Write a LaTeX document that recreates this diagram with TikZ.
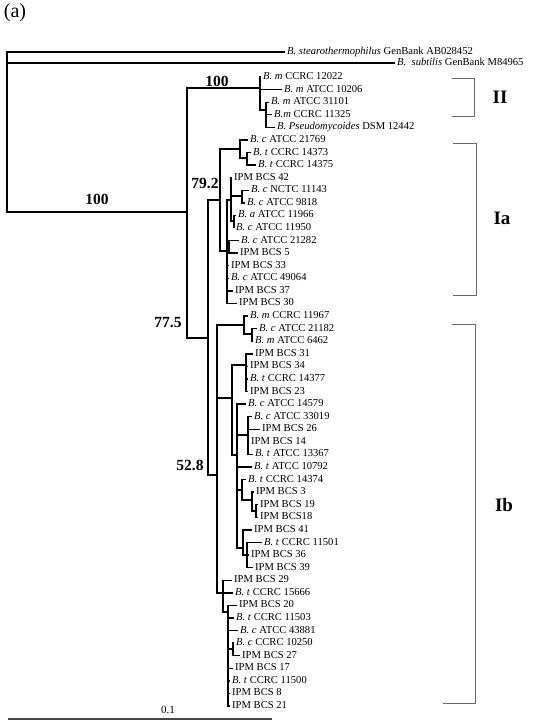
\documentclass[tikz,border=0pt]{standalone}
\usepackage{fontspec}
\setmainfont{Liberation Serif}
\usepackage{xcolor}
\definecolor{branchblack}{RGB}{0,0,0}
\definecolor{bracketgray}{RGB}{105,105,105}
\definecolor{scalegray}{RGB}{70,70,70}
\usepackage{tikz}
\tikzset{
  tiplbl/.style={anchor=west,inner xsep=2pt,inner ysep=0pt,
    font=\fontsize{10.6}{12}\selectfont,text height=7pt,text depth=2pt},
  bootlbl/.style={font=\fontsize{15.5}{17}\selectfont\bfseries,inner sep=0pt},
  cladelbl/.style={font=\fontsize{19}{22}\selectfont\bfseries,inner sep=0pt},
  br/.style={draw=branchblack,line width=1.4pt},
  bracket/.style={draw=bracketgray,line width=0.9pt},
}

\begin{document}
\begin{tikzpicture}[x=1pt,y=-1pt]
  \useasboundingbox (0,0) rectangle (536,728);
  \node[font=\fontsize{20}{22}\selectfont] (panel) at (15,13) {(a)};

  % outgroups
  \node[tiplbl] (so) at (285,52) {\textit{B. stearothermophilus} GenBank AB028452};
  \node[tiplbl] (su) at (395,63) {\textit{B.\ \ subtilis} GenBank M84965};

  % tips, clade II
  \node[tiplbl] (t1) at (261,77.0) {\textit{B. m} CCRC 12022};
  \node[tiplbl] (t2) at (282,89.6) {\textit{B. m} ATCC 10206};
  \node[tiplbl] (t3) at (269,102.2) {\textit{B. m} ATCC 31101};
  \node[tiplbl] (t4) at (272,114.7) {\textit{B.m} CCRC 11325};
  \node[tiplbl] (t5) at (275,127.3) {\textit{B. Pseudomycoides} DSM 12442};
  % tips, clade Ia
  \node[tiplbl] (t6) at (248,139.9) {\textit{B. c} ATCC 21769};
  \node[tiplbl] (t7) at (251,152.5) {\textit{B. t} CCRC 14373};
  \node[tiplbl] (t8) at (256,165.1) {\textit{B. t} CCRC 14375};
  \node[tiplbl] (t9) at (232,177.6) {IPM BCS 42};
  \node[tiplbl] (t10) at (249,190.2) {\textit{B. c} NCTC 11143};
  \node[tiplbl] (t11) at (245,202.8) {\textit{B. c} ATCC 9818};
  \node[tiplbl] (t12) at (236,215.4) {\textit{B. a} ATCC 11966};
  \node[tiplbl] (t13) at (234,228.0) {\textit{B. c} ATCC 11950};
  \node[tiplbl] (t14) at (239,240.5) {\textit{B. c} ATCC 21282};
  \node[tiplbl] (t15) at (238,253.1) {IPM BCS 5};
  \node[tiplbl] (t16) at (229,265.7) {IPM BCS 33};
  \node[tiplbl] (t17) at (229,278.3) {\textit{B. c} ATCC 49064};
  \node[tiplbl] (t18) at (233,290.9) {IPM BCS 37};
  \node[tiplbl] (t19) at (237,303.4) {IPM BCS 30};
  % tips, clade Ib
  \node[tiplbl] (t20) at (248,316.0) {\textit{B. m} CCRC 11967};
  \node[tiplbl] (t21) at (257,328.6) {\textit{B. c} ATCC 21182};
  \node[tiplbl] (t22) at (253,341.2) {\textit{B. m} ATCC 6462};
  \node[tiplbl] (t23) at (253,353.8) {IPM BCS 31};
  \node[tiplbl] (t24) at (248,366.3) {IPM BCS 34};
  \node[tiplbl] (t25) at (248,378.9) {\textit{B. t} CCRC 14377};
  \node[tiplbl] (t26) at (248,391.5) {IPM BCS 23};
  \node[tiplbl] (t27) at (246,404.1) {\textit{B. c} ATCC 14579};
  \node[tiplbl] (t28) at (252,416.7) {\textit{B. c} ATCC 33019};
  \node[tiplbl] (t29) at (260,429.2) {IPM BCS 26};
  \node[tiplbl] (t30) at (249,441.8) {IPM BCS 14};
  \node[tiplbl] (t31) at (253,454.4) {\textit{B. t} ATCC 13367};
  \node[tiplbl] (t32) at (252,467.0) {\textit{B. t} ATCC 10792};
  \node[tiplbl] (t33) at (246,479.6) {\textit{B. t} CCRC 14374};
  \node[tiplbl] (t34) at (254,492.1) {IPM BCS 3};
  \node[tiplbl] (t35) at (258,504.7) {IPM BCS 19};
  \node[tiplbl] (t36) at (258,517.3) {IPM BCS18};
  \node[tiplbl] (t37) at (252,529.9) {IPM BCS 41};
  \node[tiplbl] (t38) at (262,542.5) {\textit{B. t} CCRC 11501};
  \node[tiplbl] (t39) at (249,555.0) {IPM BCS 36};
  \node[tiplbl] (t40) at (253,567.6) {IPM BCS 39};
  \node[tiplbl] (t41) at (232,580.2) {IPM BCS 29};
  \node[tiplbl] (t42) at (233,592.8) {\textit{B. t} CCRC 15666};
  \node[tiplbl] (t43) at (237,605.4) {IPM BCS 20};
  \node[tiplbl] (t44) at (234,617.9) {\textit{B. t} CCRC 11503};
  \node[tiplbl] (t45) at (238,630.5) {\textit{B. c} ATCC 43881};
  \node[tiplbl] (t46) at (234,643.1) {\textit{B. c} CCRC 10250};
  \node[tiplbl] (t47) at (240,655.7) {IPM BCS 27};
  \node[tiplbl] (t48) at (233,668.3) {IPM BCS 17};
  \node[tiplbl] (t49) at (230,680.8) {\textit{B. t} CCRC 11500};
  \node[tiplbl] (t50) at (230,693.4) {IPM BCS 8};
  \node[tiplbl] (t51) at (230,706.0) {IPM BCS 21};

  % internal nodes
  \coordinate (root) at (7,130);
  \coordinate (A) at (187,212);
  \coordinate (II) at (260,88);
  \coordinate (II2) at (266,110);
  \coordinate (B) at (208,338);
  \coordinate (ia) at (220,200);
  \coordinate (a1) at (240,149);
  \coordinate (a1b) at (247,158);
  \coordinate (a2) at (227,251);
  \coordinate (a21) at (231,200);
  \coordinate (a22) at (242,196);
  \coordinate (a23) at (234,221);
  \coordinate (a24) at (229,247);
  \coordinate (D) at (217,475);
  \coordinate (b1) at (244,325);
  \coordinate (b11) at (252,334);
  \coordinate (b2) at (232,398);
  \coordinate (b2a) at (246,365);
  \coordinate (b3) at (237,455);
  \coordinate (b3a) at (248,435);
  \coordinate (b4a) at (242,490);
  \coordinate (b4b) at (252,500);
  \coordinate (b4c) at (256,511);
  \coordinate (b4d) at (243,548);
  \coordinate (b4e) at (247,555);
  \coordinate (b5) at (223,593);
  \coordinate (b5a) at (228,612);
  \coordinate (b5b) at (233,649);

  % branches
  \draw[br] (root) |- (so.west) (root) |- (su.west) (root) |- (A);
  \draw[br] (A) |- (II) (A) |- (B);
  \draw[br] (II) |- (t1.west) (II) |- (t2.west) (II) |- (II2);
  \draw[br] (II2) |- (t3.west) (II2) |- (t4.west) (II2) |- (t5.west);
  \draw[br] (B) |- (ia) (B) |- (D);
  \draw[br] (ia) |- (a1) (ia) |- (a2);
  \draw[br] (a1) |- (t6.west) (a1) |- (a1b);
  \draw[br] (a1b) |- (t7.west) (a1b) |- (t8.west);
  \draw[br] (a2) |- (a21) (a2) |- (a24) (a2) |- (t16.west) (a2) |- (t17.west)
    (a2) |- (t18.west) (a2) |- (t19.west);
  \draw[br] (a21) |- (t9.west) (a21) |- (a22) (a21) |- (a23);
  \draw[br] (a22) |- (t10.west) (a22) |- (t11.west);
  \draw[br] (a23) |- (t12.west) (a23) |- (t13.west);
  \draw[br] (a24) |- (t14.west) (a24) |- (t15.west);
  \draw[br] (D) |- (b1) (D) |- (b2) (D) |- (b5);
  \draw[br] (b1) |- (t20.west) (b1) |- (b11);
  \draw[br] (b11) |- (t21.west) (b11) |- (t22.west);
  \draw[br] (b2) |- (b2a) (b2) |- (b3);
  \draw[br] (b2a) |- (t23.west) (b2a) |- (t24.west) (b2a) |- (t25.west) (b2a) |- (t26.west);
  \draw[br] (b3) |- (t27.west) (b3) |- (b3a) (b3) |- (t32.west) (b3) |- (b4a) (b3) |- (b4d);
  \draw[br] (b3a) |- (t28.west) (b3a) |- (t29.west) (b3a) |- (t30.west) (b3a) |- (t31.west);
  \draw[br] (b4a) |- (t33.west) (b4a) |- (b4b);
  \draw[br] (b4b) |- (t34.west) (b4b) |- (b4c);
  \draw[br] (b4c) |- (t35.west) (b4c) |- (t36.west);
  \draw[br] (b4d) |- (t37.west) (b4d) |- (b4e);
  \draw[br] (b4e) |- (t38.west) (b4e) |- (t39.west) (b4e) |- (t40.west);
  \draw[br] (b5) |- (t41.west) (b5) |- (t42.west) (b5) |- (b5a);
  \draw[br] (b5a) |- (t43.west) (b5a) |- (t44.west) (b5a) |- (t45.west) (b5a) |- (b5b)
    (b5a) |- (t48.west) (b5a) |- (t49.west) (b5a) |- (t50.west) (b5a) |- (t51.west);
  \draw[br] (b5b) |- (t46.west) (b5b) |- (t47.west);

  % bootstrap values
  \node[bootlbl] (bs100a) at (97,199) {100};
  \node[bootlbl] (bs100b) at (217,81) {100};
  \node[bootlbl] (bs792) at (205,183) {79.2};
  \node[bootlbl] (bs775) at (168,323) {77.5};
  \node[bootlbl] (bs528) at (190,465) {52.8};

  % clade brackets
  \draw[bracket] (452,78) -- (474,78) -- (474,116) -- (452,116);
  \node[cladelbl] (cII) at (500,97) {II};
  \draw[bracket] (453,143) -- (476,143) -- (476,295) -- (453,295);
  \node[cladelbl] (cIa) at (502,218) {Ia};
  \draw[bracket] (452,324) -- (475,324) -- (475,703) -- (443,703);
  \node[cladelbl] (cIb) at (504,505) {Ib};

  % scale bar
  \draw[draw=scalegray,line width=1.3pt] (8,719) -- (272,719);
  \node[font=\fontsize{11}{12}\selectfont] (sc) at (168,710) {0.1};
\end{tikzpicture}
\end{document}
